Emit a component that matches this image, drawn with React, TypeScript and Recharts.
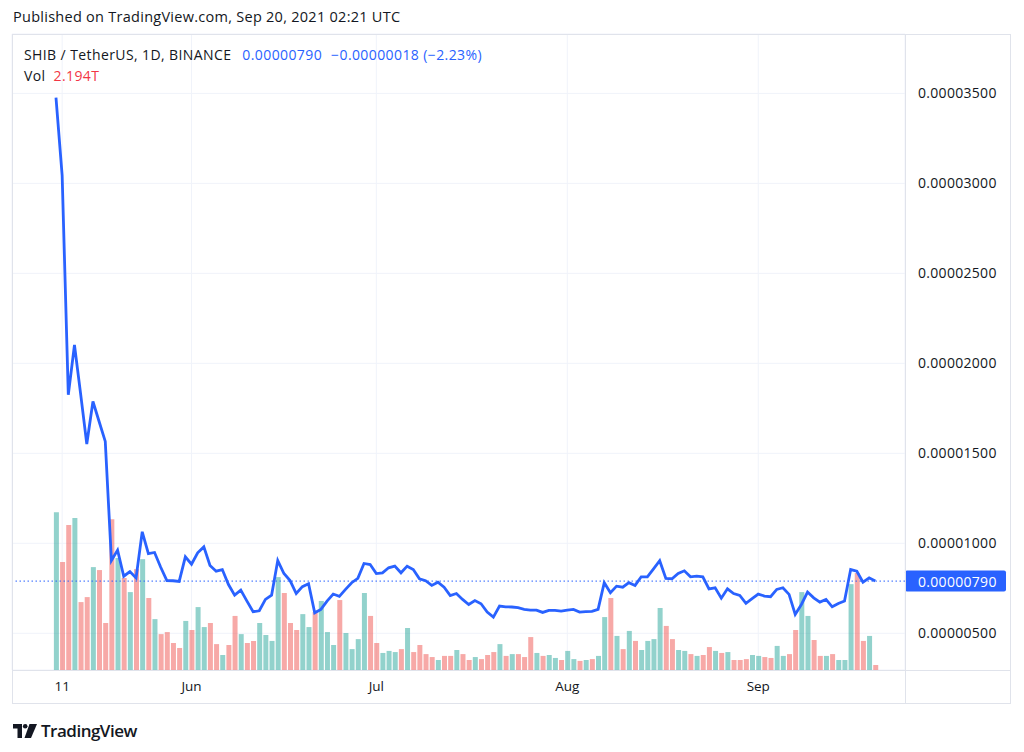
import React from "react";
import {
  ComposedChart,
  Bar,
  Line,
  XAxis,
  YAxis,
  CartesianGrid,
  ReferenceLine,
  Cell,
} from "recharts";

const FONT = "'Open Sans', Roboto, Arial, sans-serif";
const TEXT = "#131722";
const BLUE = "#2962ff";
const BORDER = "#e0e3eb";
const GRID = "#f0f3fa";
const UP = "rgba(38, 166, 154, 0.5)";
const DOWN = "rgba(239, 83, 80, 0.5)";

// SHIB/USDT daily close, in 1e-6 USDT, day 0 = May 10 2021 ... day 133 = Sep 20 2021
const closes = [
  34.76, 30.45, 18.25, 21.02, 18.3, 15.52, 17.88, 16.77, 15.66, 9.04,
  9.62, 8.17, 8.43, 8.08, 10.64, 9.42, 9.49, 8.67, 7.93, 7.92,
  7.88, 9.25, 8.84, 9.47, 9.8, 8.77, 8.45, 8.54, 7.71, 7.12,
  7.4, 6.79, 6.2, 6.25, 6.88, 7.12, 9.04, 8.32, 7.93, 7.21,
  7.59, 7.75, 6.14, 6.33, 6.79, 7.18, 7.05, 7.44, 7.81, 8.05,
  8.88, 8.82, 8.32, 8.36, 8.64, 8.73, 8.36, 8.73, 8.54, 8.03,
  7.92, 7.66, 7.84, 7.56, 7.1, 7.21, 6.88, 6.6, 6.82, 6.64,
  6.18, 5.9, 6.51, 6.47, 6.46, 6.42, 6.33, 6.29, 6.29, 6.16,
  6.27, 6.27, 6.23, 6.29, 6.33, 6.18, 6.2, 6.22, 6.33, 7.81,
  7.25, 7.62, 7.56, 7.81, 7.66, 8.14, 8.14, 8.58, 9.03, 8.05,
  8.03, 8.32, 8.47, 8.14, 8.18, 8.14, 7.47, 7.53, 6.95, 7.47,
  7.21, 7.1, 6.66, 6.92, 7.18, 7.07, 7.03, 7.44, 7.53, 7.16,
  6.05, 6.6, 7.29, 6.97, 6.73, 6.88, 6.47, 6.66, 6.79, 8.54,
  8.45, 7.84, 8.08, 7.9,
];

// daily volume, trillions of SHIB
const volumes = [
  69.5, 47.5, 63.8, 66.9, 29.9, 32.1, 45.3, 44.0, 20.7, 66.4,
  49.3, 40.5, 34.3, 44.4, 48.8, 31.7, 22.4, 15.8, 16.7, 11.9,
  9.7, 21.6, 17.6, 27.7, 18.9, 20.7, 11.4, 6.6, 11.0, 23.8,
  15.8, 11.9, 12.8, 20.7, 15.4, 12.8, 40.9, 33.9, 20.7, 17.6,
  24.6, 18.9, 25.5, 30.4, 16.7, 11.0, 30.8, 16.3, 9.2, 13.6,
  33.9, 23.8, 11.9, 7.5, 8.4, 7.9, 9.2, 18.5, 7.9, 11.0,
  7.0, 5.7, 4.4, 6.2, 6.2, 8.8, 7.0, 4.4, 5.7, 4.8,
  6.6, 7.9, 11.4, 6.2, 7.0, 7.0, 5.7, 14.5, 7.5, 6.2,
  6.6, 5.3, 4.4, 8.4, 4.8, 4.0, 4.4, 4.8, 6.2, 23.3,
  31.7, 15.0, 9.2, 17.2, 12.8, 8.8, 12.8, 13.6, 27.3, 19.4,
  13.6, 8.8, 8.4, 7.0, 6.2, 6.6, 10.1, 8.4, 7.5, 7.9,
  4.4, 4.4, 4.8, 6.6, 6.2, 5.7, 5.3, 10.6, 6.2, 7.0,
  17.6, 34.3, 23.8, 13.2, 6.2, 6.2, 7.0, 4.4, 4.4, 37.8,
  42.7, 12.8, 15.0, 2.194,
];

// 1 = candle closed up, 0 = closed down
const upDays = [
  1, 0, 0, 1, 0, 0, 1, 0, 0, 0, 1, 0, 1, 0, 1, 0, 1, 0, 0, 0,
  0, 1, 0, 1, 1, 0, 0, 1, 0, 0, 1, 0, 0, 1, 1, 1, 1, 0, 0, 0,
  1, 1, 0, 1, 1, 1, 0, 1, 1, 1, 1, 0, 0, 1, 1, 1, 0, 1, 0, 0,
  0, 0, 1, 0, 0, 1, 0, 0, 1, 0, 0, 0, 1, 0, 1, 0, 0, 0, 1, 0,
  1, 1, 0, 1, 1, 0, 1, 0, 1, 1, 0, 1, 0, 1, 0, 1, 1, 1, 1, 0,
  0, 1, 1, 0, 1, 0, 0, 1, 0, 1, 0, 0, 0, 1, 1, 0, 0, 1, 1, 0,
  0, 1, 1, 0, 0, 1, 0, 1, 1, 1, 0, 0, 1, 0,
];

const monthTicks = [1, 22, 52, 83, 114];
const monthLabels = ["11", "Jun", "Jul", "Aug", "Sep"];
const priceTicks = [5, 10, 15, 20, 25, 30, 35];
const lastPrice = 7.9;

const data = closes.map((close, i) => ({
  day: i,
  close,
  volume: volumes[i],
  up: upDays[i] === 1,
}));

const fmtPrice = (v: number) => (v / 1e6).toFixed(8);

const PriceLabel = (props: any) => {
  const { viewBox } = props;
  if (!viewBox) return null;
  const x = viewBox.x + viewBox.width;
  const y = viewBox.y;
  return (
    <g>
      <rect x={x} y={y - 10.5} width={101} height={21} rx={2} fill={BLUE} />
      <text
        x={x + 13}
        y={y}
        fill="#ffffff"
        fontSize={14}
        letterSpacing={0.3}
        fontFamily={FONT}
        dominantBaseline="central"
      >
        {fmtPrice(lastPrice)}
      </text>
    </g>
  );
};

const line = (style: React.CSSProperties) => (
  <div style={{ position: "absolute", background: BORDER, ...style }} />
);

const App: React.FC = () => {
  return (
    <div
      style={{
        position: "absolute",
        left: 0,
        top: 0,
        width: 1024,
        height: 752,
        background: "#ffffff",
        fontFamily: FONT,
        color: TEXT,
      }}
    >
      <ComposedChart
        width={1024}
        height={752}
        data={data}
        margin={{ top: 34, right: 14, bottom: 49, left: 12 }}
      >
        <CartesianGrid yAxisId="price" stroke={GRID} />
        <XAxis
          dataKey="day"
          type="number"
          domain={[-7.14, 137.82]}
          allowDataOverflow
          ticks={monthTicks}
          interval={0}
          tickFormatter={(v: number) => monthLabels[monthTicks.indexOf(v)]}
          height={33}
          tickSize={0}
          tickMargin={11}
          axisLine={false}
          tick={{ fill: TEXT, fontSize: 13.5, fontFamily: FONT }}
        />
        <YAxis
          yAxisId="price"
          orientation="right"
          domain={[2.96, 38.3]}
          allowDataOverflow
          ticks={priceTicks}
          interval={0}
          width={105}
          tickSize={0}
          tickMargin={13}
          axisLine={false}
          tickFormatter={fmtPrice}
          tick={{ fill: TEXT, fontSize: 14, letterSpacing: 0.3, fontFamily: FONT, textAnchor: "start" }}
        />
        <YAxis yAxisId="vol" hide domain={[0, 280]} allowDataOverflow />
        <Bar yAxisId="vol" dataKey="volume" barSize={5} isAnimationActive={false}>
          {data.map((d) => (
            <Cell key={`v-${d.day}`} fill={d.up ? UP : DOWN} />
          ))}
        </Bar>
        <ReferenceLine
          yAxisId="price"
          y={lastPrice}
          stroke={BLUE}
          strokeWidth={1}
          strokeDasharray="1.5 2.5"
          label={<PriceLabel />}
        />
        <Line
          yAxisId="price"
          type="linear"
          dataKey="close"
          stroke={BLUE}
          strokeWidth={2.8}
          dot={false}
          activeDot={false}
          isAnimationActive={false}
        />
      </ComposedChart>

      {/* frame */}
      {line({ left: 12, top: 34, width: 999, height: 1 })}
      {line({ left: 12, top: 670, width: 999, height: 1 })}
      {line({ left: 12, top: 703, width: 999, height: 1 })}
      {line({ left: 12, top: 34, width: 1, height: 670 })}
      {line({ left: 905, top: 34, width: 1, height: 670 })}
      {line({ left: 1010, top: 34, width: 1, height: 670 })}

      <div style={{ position: "absolute", left: 13, top: 7, fontSize: 14.5, letterSpacing: 0.27, whiteSpace: "nowrap" }}>
        Published on TradingView.com, Sep 20, 2021 02:21 UTC
      </div>
      <div style={{ position: "absolute", left: 24, top: 45, fontSize: 14, letterSpacing: 0.4, whiteSpace: "nowrap" }}>
        SHIB / TetherUS, 1D, BINANCE
        <span style={{ color: BLUE, marginLeft: 11 }}>0.00000790</span>
        <span style={{ color: BLUE, marginLeft: 9 }}>−0.00000018 (−2.23%)</span>
      </div>
      <div style={{ position: "absolute", left: 24, top: 66, fontSize: 14, letterSpacing: 0.4, whiteSpace: "nowrap" }}>
        Vol<span style={{ color: "#f23645", marginLeft: 8 }}>2.194T</span>
      </div>

      <div style={{ position: "absolute", left: 13, top: 719, display: "flex", alignItems: "center" }}>
        <svg width={24} height={14} viewBox="0 0 24 14">
          <path d="M0 0 H9 V14 H4.5 V4.5 H0 Z" fill={TEXT} />
          <circle cx={12.2} cy={2.3} r={2.3} fill={TEXT} />
          <path d="M16.5 0 H24 L18 14 H11.5 Z" fill={TEXT} />
        </svg>
        <span style={{ marginLeft: 4, fontSize: 17, fontWeight: 600, letterSpacing: -0.5 }}>
          TradingView
        </span>
      </div>
    </div>
  );
};

export default App;
